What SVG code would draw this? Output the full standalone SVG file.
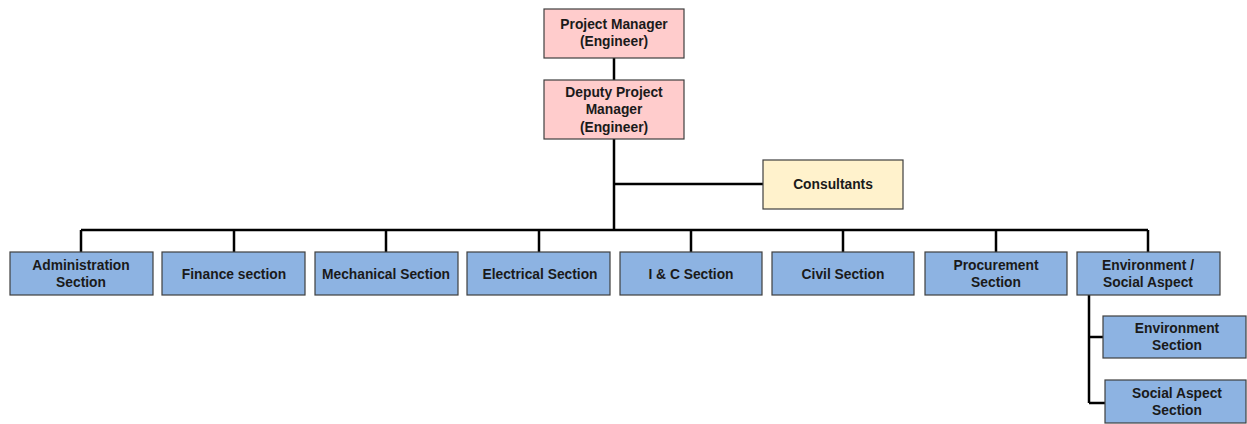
<svg xmlns="http://www.w3.org/2000/svg" width="1247" height="424" viewBox="0 0 1247 424">
<style>
.b{stroke:#3f3f3f;stroke-width:1.2}
.pink{fill:#ffcccc}.yel{fill:#fff2cc}.blue{fill:#8db3e2}
text{font-family:"Liberation Sans",Arial,sans-serif;font-weight:bold;font-size:13.8px;fill:#1a1a1a;text-anchor:middle}
.c{stroke:#000;stroke-width:2.5;fill:none}
</style>
<rect width="1247" height="424" fill="#fff"/>
<g id="connectors">
<path class="c" d="M614 58V80M614 139V230M614 184H763M81 230H1148"/>
<path class="c" d="M81 230V252M234 230V252M386 230V252M539 230V252M691 230V252M843 230V252M996 230V252M1148 230V252"/>
<path class="c" d="M1089 295V403M1089 337H1103M1089 403H1105"/>
</g>
<g id="pm"><rect class="b pink" x="544" y="9" width="140" height="49"/><text x="614" y="29">Project Manager</text><text x="614" y="46">(Engineer)</text></g>
<g id="dpm"><rect class="b pink" x="544" y="80" width="140" height="59"/><text x="614" y="97">Deputy Project</text><text x="614" y="114">Manager</text><text x="614" y="132">(Engineer)</text></g>
<g id="consultants"><rect class="b yel" x="763" y="160" width="140" height="49"/><text x="833" y="189">Consultants</text></g>
<g id="admin"><rect class="b blue" x="10" y="252" width="143" height="43"/><text x="81" y="270">Administration</text><text x="81" y="287">Section</text></g>
<g id="finance"><rect class="b blue" x="162" y="252" width="143" height="43"/><text x="234" y="279">Finance section</text></g>
<g id="mechanical"><rect class="b blue" x="315" y="252" width="143" height="43"/><text x="386" y="279">Mechanical Section</text></g>
<g id="electrical"><rect class="b blue" x="467" y="252" width="143" height="43"/><text x="540" y="279">Electrical Section</text></g>
<g id="ic"><rect class="b blue" x="620" y="252" width="142" height="43"/><text x="691" y="279">I &amp; C Section</text></g>
<g id="civil"><rect class="b blue" x="772" y="252" width="142" height="43"/><text x="843" y="279">Civil Section</text></g>
<g id="procurement"><rect class="b blue" x="925" y="252" width="142" height="43"/><text x="996" y="270">Procurement</text><text x="996" y="287">Section</text></g>
<g id="envsocial"><rect class="b blue" x="1077" y="252" width="143" height="43"/><text x="1148" y="270">Environment /</text><text x="1148" y="287">Social Aspect</text></g>
<g id="envsection"><rect class="b blue" x="1103" y="316" width="143" height="42"/><text x="1177" y="333">Environment</text><text x="1177" y="350">Section</text></g>
<g id="socialsection"><rect class="b blue" x="1105" y="380" width="141" height="43"/><text x="1177" y="398">Social Aspect</text><text x="1177" y="415">Section</text></g>
</svg>
